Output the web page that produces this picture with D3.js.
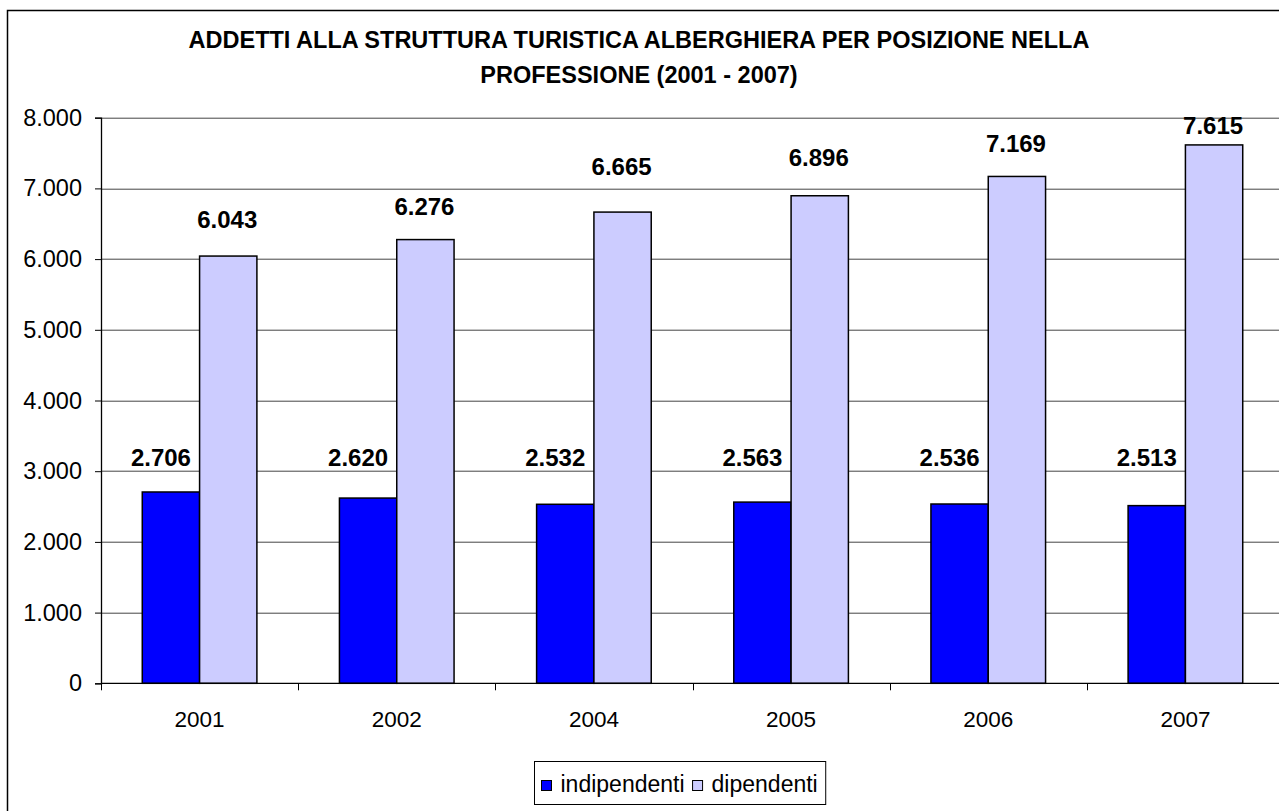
<!DOCTYPE html>
<html>
<head>
<meta charset="utf-8">
<script src="https://cdn.jsdelivr.net/npm/d3@7"></script>
<style>
  body { margin: 0; background: #fff; }
  svg { display: block; font-family: "Liberation Sans", Arial, sans-serif; }
</style>
</head>
<body>
<div id="chart"></div>
<script>
const years = ["2001", "2002", "2004", "2005", "2006", "2007"];
const indipendenti = [2706, 2620, 2532, 2563, 2536, 2513];
const dipendenti = [6043, 6276, 6665, 6896, 7169, 7615];
const seriesNames = ["indipendenti", "dipendenti"];
const yTicks = [0, 1000, 2000, 3000, 4000, 5000, 6000, 7000, 8000];
const titleLines = [
    "ADDETTI ALLA STRUTTURA TURISTICA ALBERGHIERA PER POSIZIONE NELLA",
    "PROFESSIONE (2001 - 2007)"
];

const W = 1279, H = 811;
const margin = { top: 117.7, left: 101, bottom: H - 683.3 };
const plotW = 1183;   // plot runs past the right edge, as in the picture
const plotH = H - margin.top - margin.bottom;

const colors = ["#0000ff", "#ccccff"];

// data labels were moved by hand in the original; anchors in value units
const labelAnchor = [
    [3074, 3074, 3074, 3074, 3074, 3074],
    [6440, 6624, 7190, 7317, 7515, 7770]
];
const labelDx = [-10, -1];

const loc = d3.formatLocale({ decimal: ",", thousands: ".", grouping: [3], currency: ["", "€"] });
const fmt = loc.format(",d");

const svg = d3.select("#chart")
    .append("svg")
    .attr("width", W)
    .attr("height", H);

// outer chart border (right and bottom fall outside the picture)
svg.append("rect")
    .attr("x", 7.5).attr("y", 10.5)
    .attr("width", 1290).attr("height", 820)
    .attr("fill", "none")
    .attr("stroke", "#000")
    .attr("stroke-width", 1.5);

svg.append("g")
    .selectAll("text")
    .data(titleLines)
    .enter()
    .append("text")
    .attr("x", 639)
    .attr("y", (d, i) => 48 + i * 35)
    .attr("text-anchor", "middle")
    .style("font-size", "23.5px")
    .style("font-weight", "bold")
    .text(d => d);

const g = svg.append("g")
    .attr("transform", `translate(${margin.left},${margin.top})`);

const x = d3.scaleBand()
    .domain(years)
    .range([0, plotW]);

const x1 = d3.scaleBand()
    .domain(seriesNames)
    .range([0, x.bandwidth()])
    .paddingInner(0)
    .paddingOuter(0.72);

const y = d3.scaleLinear()
    .domain([0, 8000])
    .range([plotH, 0]);

// gridlines
g.append("g")
    .selectAll("line")
    .data(yTicks.slice(1))
    .enter()
    .append("line")
    .attr("x1", 0).attr("x2", plotW)
    .attr("y1", d => Math.round(y(d)) + 0.5)
    .attr("y2", d => Math.round(y(d)) + 0.5)
    .attr("stroke", "#444")
    .attr("stroke-width", 1);

const series = [indipendenti, dipendenti];

series.forEach((vals, si) => {
    g.append("g")
        .selectAll("rect")
        .data(vals)
        .enter()
        .append("rect")
        .attr("x", (d, i) => x(years[i]) + x1(seriesNames[si]))
        .attr("y", d => y(d))
        .attr("width", x1.bandwidth())
        .attr("height", d => plotH - y(d))
        .attr("fill", colors[si])
        .attr("stroke", "#000")
        .attr("stroke-width", 1.5);

    g.append("g")
        .selectAll("text")
        .data(vals)
        .enter()
        .append("text")
        .attr("x", (d, i) => x(years[i]) + x1(seriesNames[si]) + x1.bandwidth() / 2 + labelDx[si])
        .attr("y", (d, i) => y(labelAnchor[si][i]))
        .attr("text-anchor", "middle")
        .style("font-size", "24px")
        .style("font-weight", "bold")
        .text(d => fmt(d));
});

// y axis
const yAxis = d3.axisLeft(y)
    .tickValues(yTicks)
    .tickSize(6)
    .tickPadding(13)
    .tickFormat(d => fmt(d));

const yg = g.append("g").call(yAxis);
yg.select(".domain").attr("stroke", "#000").attr("stroke-width", 1.3);
yg.selectAll(".tick line").attr("stroke", "#000");
yg.selectAll("text").style("font-size", "23.5px").attr("fill", "#000");

// x axis
const xg = g.append("g").attr("transform", `translate(0,${plotH})`);
xg.append("line")
    .attr("x1", 0).attr("x2", plotW)
    .attr("stroke", "#000").attr("stroke-width", 1.3);
xg.selectAll("line.tk")
    .data(d3.range(years.length + 1))
    .enter()
    .append("line")
    .attr("class", "tk")
    .attr("x1", i => Math.round(i * x.step()) + 0.5)
    .attr("x2", i => Math.round(i * x.step()) + 0.5)
    .attr("y1", 0).attr("y2", 7)
    .attr("stroke", "#000");
xg.selectAll("text")
    .data(years)
    .enter()
    .append("text")
    .attr("x", d => x(d) + x.bandwidth() / 2)
    .attr("y", 43.5)
    .attr("text-anchor", "middle")
    .style("font-size", "22.5px")
    .text(d => d);

// legend
const legend = svg.append("g").attr("transform", "translate(534.5,761.5)");
legend.append("rect")
    .attr("width", 300).attr("height", 43)
    .attr("fill", "#fff")
    .attr("stroke", "#000")
    .attr("stroke-width", 1);

const items = legend.selectAll("g.item")
    .data(seriesNames)
    .enter()
    .append("g")
    .attr("class", "item");

items.append("rect")
    .attr("width", 10).attr("height", 10)
    .attr("y", 19)
    .attr("fill", (d, i) => colors[i])
    .attr("stroke", "#000")
    .attr("stroke-width", 1);

items.append("text")
    .attr("x", 19)
    .attr("y", 30)
    .style("font-size", "23px")
    .text(d => d);

// place items side by side from their measured widths
let cx = 7;
items.each(function () {
    d3.select(this).attr("transform", `translate(${cx},0)`);
    cx += this.getBBox().width + 8;
});
legend.select("rect").attr("width", cx);
</script>
</body>
</html>
